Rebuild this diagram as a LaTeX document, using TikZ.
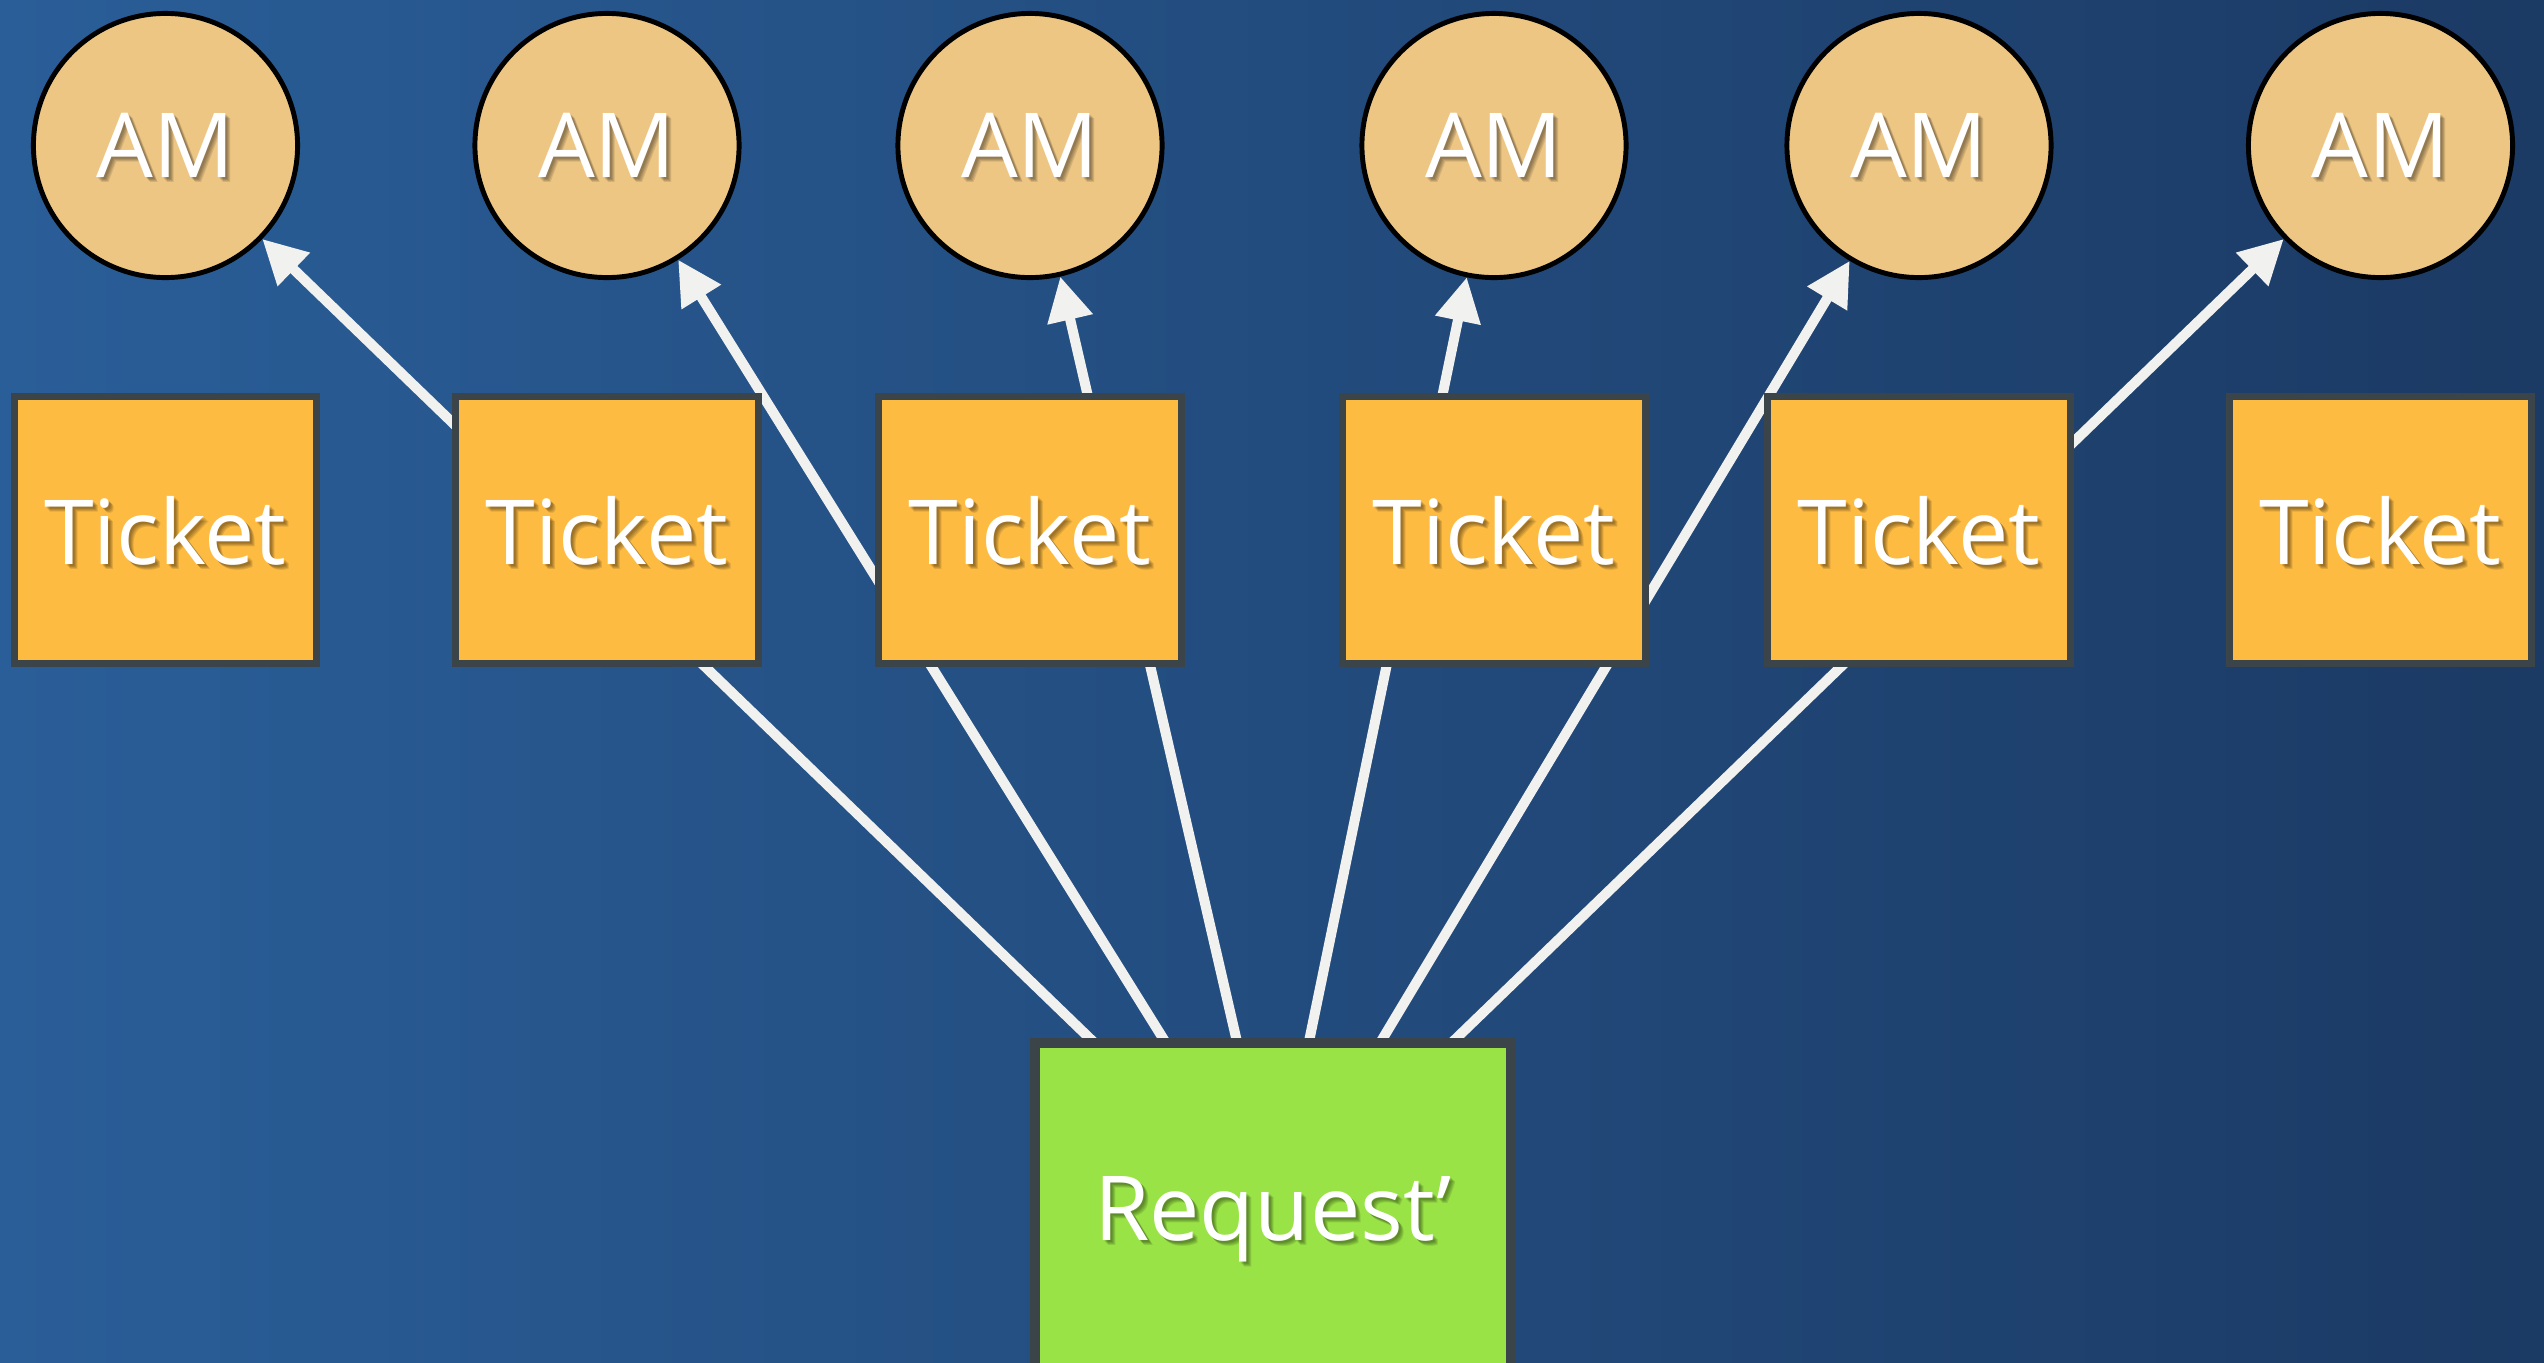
\documentclass[tikz,border=0pt]{standalone}
\usepackage{fontspec}
\setmainfont{Open Sans}
\usetikzlibrary{arrows.meta}

\definecolor{bgleft}{HTML}{2A5E98}
\definecolor{bgright}{HTML}{1B3A64}
\definecolor{amfill}{HTML}{EEC684}
\definecolor{ticketfill}{HTML}{FDBB42}
\definecolor{reqfill}{HTML}{99E346}
\definecolor{boxedge}{HTML}{3B4448}
\definecolor{linkcol}{HTML}{F1F1EF}

\pgfdeclarelayer{backdrop}
\pgfdeclarelayer{links}
\pgfsetlayers{backdrop,links,main}

\tikzset{
  labelfont/.style={font=\fontsize{25.5pt}{30pt}\selectfont, text depth=0pt},
  softshadow/.style={draw=none, fill=none, inner sep=0pt, text=black,
    text opacity=0.11, labelfont},
  % soft drop shadow under the node's own text
  shadowed/.style={path picture={
      \foreach \d in {2,3,4,5}{
        \node[softshadow] at ([shift={(\d,\d)}]path picture bounding box.center) {#1};
      }}},
  amnode/.style={circle, draw=black, line width=1.4pt, fill=amfill,
    minimum size=2.64cm, inner sep=0pt, text=white, labelfont, shadowed={AM}},
  ticketnode/.style={rectangle, draw=boxedge, line width=2pt, fill=ticketfill,
    minimum width=3.02cm, minimum height=2.67cm, inner sep=0pt, text=white,
    labelfont, shadowed={Ticket}},
  reqnode/.style={rectangle, draw=boxedge, line width=2.85pt, fill=reqfill,
    minimum width=4.76cm, minimum height=3.3cm, inner sep=0pt, text=white,
    labelfont, shadowed={Request’}},
  link/.style={draw=linkcol, line width=2.85pt,
    -{Triangle[length=12.5pt,width=12.5pt]}},
}

\begin{document}
\begin{tikzpicture}[x=0.01cm, y=-0.01cm]
  \useasboundingbox (0,0) rectangle (2544,1363);
  \begin{pgfonlayer}{backdrop}
    \shade[left color=bgleft, right color=bgright] (0,0) rectangle (2544,1363);
  \end{pgfonlayer}

  % access managers
  \node[amnode] (am1) at (165.5,145.5) {AM};
  \node[amnode] (am2) at (607,145.5)   {AM};
  \node[amnode] (am3) at (1030,145.5)  {AM};
  \node[amnode] (am4) at (1494,145.5)  {AM};
  \node[amnode] (am5) at (1919,145.5)  {AM};
  \node[amnode] (am6) at (2380.5,145.5) {AM};

  % the request
  \node[reqnode] (req) at (1273,1208) {Request’};

  % fan-out points along the request's top edge
  \coordinate (s1) at ([shift={(-177.5,6)}]req.north);
  \coordinate (s2) at ([shift={(-106.5,6)}]req.north);
  \coordinate (s3) at ([shift={(-35.5,6)}]req.north);
  \coordinate (s4) at ([shift={(35.5,6)}]req.north);
  \coordinate (s5) at ([shift={(106.5,6)}]req.north);
  \coordinate (s6) at ([shift={(177.5,6)}]req.north);

  \begin{pgfonlayer}{links}
    \draw[link] (s1) -- (am1);
    \draw[link] (s2) -- (am2);
    \draw[link] (s3) -- (am3);
    \draw[link] (s4) -- (am4);
    \draw[link] (s5) -- (am5);
    \draw[link] (s6) -- (am6);
  \end{pgfonlayer}

  % tickets, on top of the links
  \node[ticketnode] (t1) at (165.5,530) {Ticket};
  \node[ticketnode] (t2) at (607,530)   {Ticket};
  \node[ticketnode] (t3) at (1030,530)  {Ticket};
  \node[ticketnode] (t4) at (1494,530)  {Ticket};
  \node[ticketnode] (t5) at (1919,530)  {Ticket};
  \node[ticketnode] (t6) at (2380.5,530) {Ticket};
\end{tikzpicture}
\end{document}
